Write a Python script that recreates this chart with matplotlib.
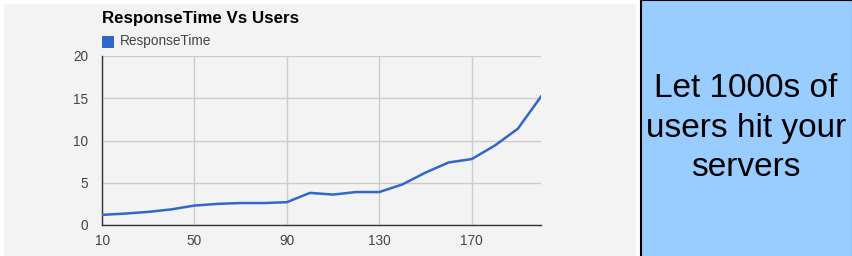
import matplotlib.pyplot as plt
from matplotlib.patches import Rectangle

# users vs response time
users = [10, 20, 30, 40, 50, 60, 70, 80, 90, 100,
         110, 120, 130, 140, 150, 160, 170, 180, 190, 200]
response_time = [1.2, 1.35, 1.55, 1.85, 2.3, 2.5, 2.6, 2.6, 2.7, 3.8,
                 3.6, 3.9, 3.9, 4.8, 6.2, 7.4, 7.8, 9.4, 11.4, 15.2]
x_ticks = [10, 50, 90, 130, 170]
y_ticks = [0, 5, 10, 15, 20]

bg = '#f3f3f3'
line_color = '#3366cc'
plt.rcParams['font.family'] = ['Liberation Sans', 'DejaVu Sans']

fig = plt.figure(figsize=(8.52, 2.56), dpi=100, facecolor='white')

# gray chart background (behind the axes)
fig.patches.append(Rectangle((4 / 852, 0), 632 / 852, 252 / 256,
                             transform=fig.transFigure, facecolor=bg,
                             edgecolor='none', zorder=-5))

ax = fig.add_axes([102 / 852, 1 - 225 / 256, 439 / 852, 169 / 256])
ax.set_zorder(2)
ax.set_facecolor(bg)
ax.plot(users, response_time, color=line_color, lw=1.8, zorder=3)

ax.set_xlim(10, 200)
ax.set_ylim(0, 20)
ax.set_xticks(x_ticks)
ax.set_yticks(y_ticks)
ax.grid(True, color='#cccccc', lw=1)
ax.set_axisbelow(True)
ax.tick_params(length=0, labelsize=9.8, labelcolor='#444444')
ax.tick_params(axis='x', pad=6.5)
ax.tick_params(axis='y', pad=10)
for s in ['top', 'right']:
    ax.spines[s].set_visible(False)
for s in ['left', 'bottom']:
    ax.spines[s].set_color('#333333')
    ax.spines[s].set_linewidth(1)

# title and legend
fig.text(102 / 852, 1 - 18 / 256, 'ResponseTime Vs Users', fontsize=12.2,
         fontweight='bold', va='center', ha='left')
fig.patches.append(Rectangle((102 / 852, 1 - 48 / 256), 12 / 852, 12 / 256,
                             transform=fig.transFigure, facecolor=line_color,
                             edgecolor='none'))
fig.text(120 / 852, 1 - 41.5 / 256, 'ResponseTime', fontsize=9.8,
         color='#444444', va='center', ha='left')

# blue callout box
fig.patches.append(Rectangle((641 / 852, -0.01), 212 / 852, 1.01,
                             transform=fig.transFigure, facecolor='#99ccff',
                             edgecolor='black', lw=1.5))
fig.text(746 / 852, 0.5, 'Let 1000s of\nusers hit your\nservers', fontsize=24,
         ha='center', va='center', linespacing=1.35)

fig.savefig('out.png', dpi=100, facecolor=fig.get_facecolor())
